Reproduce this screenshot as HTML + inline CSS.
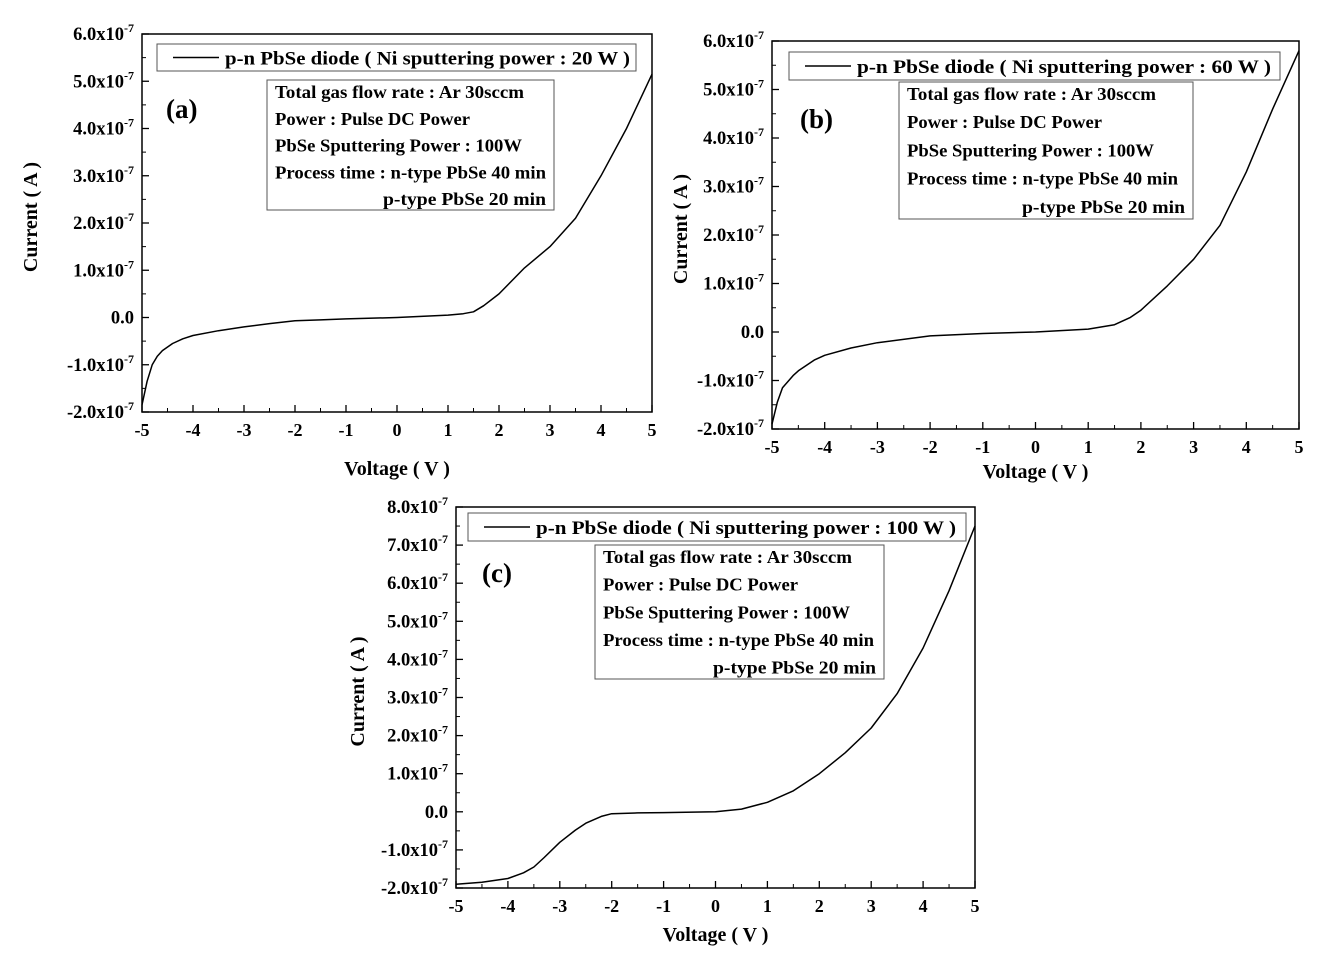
<!DOCTYPE html>
<html><head><meta charset="utf-8"><style>
body{margin:0;background:#fff}
svg{display:block;font-family:"Liberation Serif",serif;font-weight:bold}
</style></head><body>
<svg id="c" width="1335" height="970"></svg>
<script>
const xsA=[-5,-4.9,-4.8,-4.7,-4.6,-4.4,-4.2,-4,-3.5,-3,-2.5,-2,-1.5,-1,0,1,1.3,1.5,1.7,2,2.5,3,3.5,4,4.5,5];
const ysA=[-1.85,-1.35,-1.0,-0.82,-0.7,-0.55,-0.45,-0.38,-0.28,-0.2,-0.13,-0.07,-0.05,-0.03,0,0.05,0.08,0.12,0.25,0.5,1.05,1.5,2.1,3.0,4.0,5.15];
const xsB=[-5,-4.9,-4.8,-4.6,-4.5,-4.2,-4,-3.5,-3,-2,-1,0,1,1.5,1.8,2,2.5,3,3.5,4,4.5,5];
const ysB=[-1.9,-1.45,-1.15,-0.9,-0.8,-0.58,-0.48,-0.33,-0.22,-0.08,-0.03,0,0.06,0.15,0.3,0.45,0.95,1.5,2.2,3.3,4.6,5.8];
const xsC=[-5,-4.5,-4,-3.7,-3.5,-3.3,-3,-2.7,-2.5,-2.2,-2,-1.5,-1,0,0.5,1,1.5,2,2.5,3,3.5,4,4.5,5];
const ysC=[-1.9,-1.85,-1.75,-1.6,-1.45,-1.2,-0.8,-0.48,-0.3,-0.12,-0.05,-0.03,-0.02,0,0.07,0.25,0.55,1.0,1.55,2.2,3.1,4.3,5.8,7.5];
const xTicks=[-5,-4,-3,-2,-1,0,1,2,3,4,5];
const yTicksAB=[-2,-1,0,1,2,3,4,5,6];
const yTicksC=[-2,-1,0,1,2,3,4,5,6,7,8];
const info=["Total gas flow rate : Ar 30sccm","Power : Pulse DC Power","PbSe Sputtering Power : 100W","Process time : n-type PbSe 40 min","p-type PbSe 20 min"];
const NS="http://www.w3.org/2000/svg";
const svg=document.getElementById('c');
function mk(t,a,p,txt){const e=document.createElementNS(NS,t);for(const k in a)e.setAttribute(k,a[k]);if(txt!=null)e.textContent=txt;(p||svg).appendChild(e);return e;}
function panel(id,L,R,T,B,ymin,ymax,yt,xs,ys,power,lab,leg,box,xtOff,ytX){
 const g=mk('g',{});
 
 
 const sx=v=>L+(v+5)/10*(R-L), sy=v=>B-(v-ymin)/(ymax-ymin)*(B-T);
 const fr=mk('rect',{x:L,y:T,width:R-L,height:B-T,fill:'none',stroke:'#000','stroke-width':1.5},g);
 
 
 xTicks.forEach(v=>{mk('line',{x1:sx(v),x2:sx(v),y1:B,y2:B-7,stroke:'#000','stroke-width':1.3},g);
  if(v<5)mk('line',{x1:sx(v+0.5),x2:sx(v+0.5),y1:B,y2:B-4,stroke:'#000'},g);
  const t=mk('text',{x:sx(v),y:B+24,'text-anchor':'middle','font-size':18},g,String(v));
  
  });
 yt.forEach(v=>{const y=sy(v);mk('line',{x1:L,x2:L+7,y1:y,y2:y,stroke:'#000','stroke-width':1.3},g);
  if(v<ymax)mk('line',{x1:L,x2:L+4,y1:sy(v+0.5),y2:sy(v+0.5),stroke:'#000'},g);
  const t=mk('text',{x:L-8,y:y+6,'text-anchor':'end','font-size':18.5},g);
  
  
  if(v===0)t.textContent='0.0';else{t.textContent=v.toFixed(1)+'x10';mk('tspan',{dy:-8,'font-size':12},t,'-7');}});
 let d='';xs.forEach((x,i)=>{d+=(i?'L':'M')+sx(x).toFixed(1)+','+sy(ys[i]).toFixed(1);});
 const p=mk('path',{d:d,fill:'none',stroke:'#000','stroke-width':1.5,'stroke-linejoin':'round'},g);
 
 
 const xl=mk('text',{x:(L+R)/2,y:B+xtOff,'text-anchor':'middle','font-size':20},g,'Voltage ( V )');
 
 
 const yx=ytX,yy=(T+B)/2-6;
 const yl=mk('text',{x:yx,y:yy,'text-anchor':'middle','font-size':20,transform:`rotate(-90 ${yx} ${yy})`},g,'Current ( A )');
 
 
 const pl=mk('text',{x:lab[0],y:lab[1],'font-size':27},g,'('+id+')');
 
 
 const lg=mk('g',{},g);
 
 
 mk('rect',{x:leg[0],y:leg[1],width:leg[2],height:leg[3],fill:'#fff',stroke:'#555'},lg);
 mk('line',{x1:leg[0]+16,x2:leg[0]+62,y1:leg[1]+leg[3]/2,y2:leg[1]+leg[3]/2,stroke:'#000','stroke-width':1.5},lg);
 mk('text',{x:leg[0]+68,y:leg[1]+leg[3]/2+7,'font-size':18.5,textLength:leg[4],lengthAdjust:'spacingAndGlyphs'},lg,'p-n PbSe diode ( Ni sputtering power : '+power+' W )');
 const ib=mk('g',{},g);
 
 
 mk('rect',{x:box[0],y:box[1],width:box[2],height:box[3],fill:'#fff',stroke:'#555'},ib);
 const step=box[3]/4.85;
 const lens=[249,195,247,271,163];
 info.forEach((s,i)=>{const last=i===4;mk('text',{x:last?box[0]+box[2]-8:box[0]+8,y:box[1]+18+i*step,'text-anchor':last?'end':'start','font-size':17.5,textLength:lens[i],lengthAdjust:'spacingAndGlyphs'},ib,s);});
}
panel('a',142,652,34,412,-2,6,yTicksAB,xsA,ysA,20,[166,118],[157,44,479,27,405],[267,80,287,130],63,37);
panel('b',772,1299,41,429,-2,6,yTicksAB,xsB,ysB,60,[800,128],[789,52,491,28,414],[899,82,294,137],49,687);
panel('c',456,975,507,888,-2,8,yTicksC,xsC,ysC,100,[482,582],[468,513,498,28,420],[595,545,289,134],53,364);
</script>
</body></html>
